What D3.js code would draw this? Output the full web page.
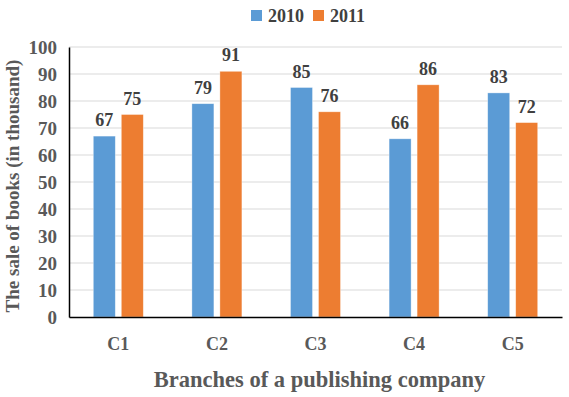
<!DOCTYPE html>
<html>
<head>
<meta charset="utf-8">
<script src="https://cdn.jsdelivr.net/npm/d3@7"></script>
<style>
  body { margin: 0; background: #fff; }
  text { font-family: "Liberation Serif", "Times New Roman", serif; font-weight: bold; }
</style>
</head>
<body>
<div id="chart"></div>
<script>
// data
const categories = ['C1', 'C2', 'C3', 'C4', 'C5']
const years = ['2010', '2011']
const sales2010 = [67, 79, 85, 66, 83]
const sales2011 = [75, 91, 76, 86, 72]
const yTicks = [0, 10, 20, 30, 40, 50, 60, 70, 80, 90, 100]
const colors = ['#5b9bd5', '#ed7d31']

const svgWidth = 569, svgHeight = 397
const margin = { top: 47, right: 7, bottom: 80, left: 69 }
const width = svgWidth - margin.left - margin.right
const height = svgHeight - margin.top - margin.bottom

const svg = d3.select('#chart').append('svg')
    .attr('width', svgWidth)
    .attr('height', svgHeight)

const g = svg.append('g')
    .attr('transform', 'translate(' + margin.left + ',' + margin.top + ')')

const x = d3.scaleBand().domain(categories).range([0, width])
const y = d3.scaleLinear().domain([0, 100]).range([height, 0])

// gridlines
g.append('g').selectAll('line').data(yTicks.filter(d => d > 0)).join('line')
    .attr('x1', 0).attr('x2', width)
    .attr('y1', d => y(d)).attr('y2', d => y(d))
    .attr('stroke', '#d9d9d9').attr('stroke-width', 1)

// bars
const barW = 22, gap = 6
const series = [sales2010, sales2011]
series.forEach((vals, s) => {
    const off = s === 0 ? -gap / 2 - barW : gap / 2
    const cg = g.append('g').attr('class', 'series' + s)
    cg.selectAll('rect').data(vals).join('rect')
        .attr('x', (d, i) => x(categories[i]) + x.bandwidth() / 2 + off)
        .attr('y', d => y(d))
        .attr('width', barW)
        .attr('height', d => height - y(d))
        .attr('fill', colors[s])
        .attr('stroke', '#fff').attr('stroke-opacity', 0.5).attr('stroke-width', 0.7)
    cg.selectAll('text').data(vals).join('text')
        .attr('x', (d, i) => x(categories[i]) + x.bandwidth() / 2 + off + barW / 2)
        .attr('y', d => y(d) - 10)
        .attr('text-anchor', 'middle')
        .attr('font-size', 18)
        .attr('fill', '#404040')
        .text(d => d)
})

// axes
const yAxis = g.append('g').call(d3.axisLeft(y).tickValues(yTicks).tickSize(0).tickPadding(12))
yAxis.select('.domain').attr('stroke', '#000').attr('stroke-width', 1.5)
yAxis.selectAll('text').attr('font-size', 19).attr('fill', '#595959')
    .attr('font-family', '"Liberation Serif", serif')

const xAxis = g.append('g').attr('transform', 'translate(0,' + height + ')')
    .call(d3.axisBottom(x).tickSize(0).tickPadding(20))
xAxis.select('.domain').attr('stroke', '#000').attr('stroke-width', 1.5)
xAxis.selectAll('text').attr('font-size', 18).attr('fill', '#595959')
    .attr('font-family', '"Liberation Serif", serif')

// titles
svg.append('text')
    .attr('x', margin.left + width / 2 + 4)
    .attr('y', 387)
    .attr('text-anchor', 'middle')
    .attr('font-size', 22.5)
    .attr('fill', '#595959')
    .text('Branches of a publishing company')

svg.append('text')
    .attr('transform', 'translate(19,186) rotate(-90)')
    .attr('text-anchor', 'middle')
    .attr('font-size', 19)
    .attr('fill', '#595959')
    .text('The sale of books (in thousand)')

// legend
const legend = svg.append('g').attr('transform', 'translate(251,10)')
years.forEach((yr, i) => {
    const lg = legend.append('g').attr('transform', 'translate(' + (i * 62) + ',0)')
    lg.append('rect').attr('width', 11).attr('height', 11).attr('fill', colors[i])
    lg.append('text').attr('x', 17).attr('y', 12)
        .attr('font-size', 18).attr('fill', '#404040').text(yr)
})
</script>
</body>
</html>
